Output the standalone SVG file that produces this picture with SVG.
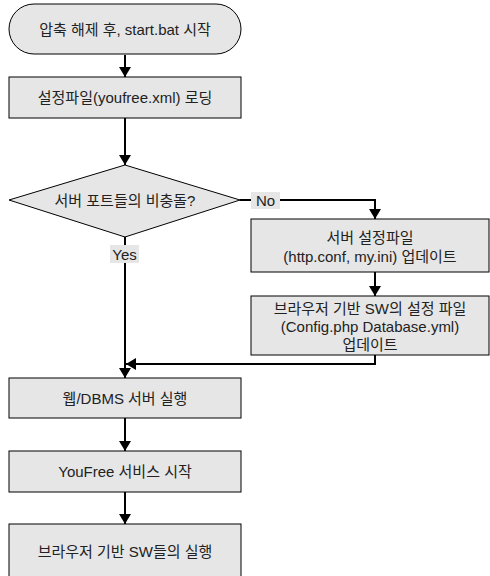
<svg xmlns="http://www.w3.org/2000/svg" width="490" height="576" viewBox="0 0 490 576">
<defs>
<marker id="ah" markerWidth="10" markerHeight="12" refX="10" refY="6" orient="auto" markerUnits="userSpaceOnUse">
<path d="M0,0 L10,6 L0,12 Z" fill="#000"/>
</marker>
<style>
.n{fill:#e6e6e6;stroke:#000;stroke-width:1}
.t{font-family:"Liberation Sans","Noto Sans CJK KR",sans-serif;font-size:15px;fill:#222;text-anchor:middle;dominant-baseline:central}
.c{fill:none;stroke:#000;stroke-width:2}
.lb{fill:#e6e6e6}
</style>
</defs>
<rect width="490" height="576" fill="#fff"/>
<g id="connectors">
<path class="c" d="M125,55 V77" marker-end="url(#ah)"/>
<path class="c" d="M125,118 V165" marker-end="url(#ah)"/>
<path class="c" d="M240,200 H375 V219" marker-end="url(#ah)"/>
<path class="c" d="M375,272 V296" marker-end="url(#ah)"/>
<path class="c" d="M125,237 V378" marker-end="url(#ah)"/>
<path class="c" d="M375,355 V364 H126" marker-end="url(#ah)"/>
<path class="c" d="M125,418 V451" marker-end="url(#ah)"/>
<path class="c" d="M125,492 V524" marker-end="url(#ah)"/>
<rect class="lb" x="251" y="192" width="29" height="17"/>
<text class="t" x="265.5" y="200.5">No</text>
<rect class="lb" x="110" y="245" width="29" height="18"/>
<text class="t" x="124.5" y="254">Yes</text>
</g>
<g id="start">
<rect class="n" x="9" y="4" width="232" height="50" rx="25" ry="25"/>
<text class="t" x="125" y="29">압축 해제 후, start.bat 시작</text>
</g>
<g id="load">
<rect class="n" x="9" y="77" width="232" height="41"/>
<text class="t" x="125" y="97.5">설정파일(youfree.xml) 로딩</text>
</g>
<g id="decision">
<polygon class="n" points="125,165 240,200 125,237 9,200"/>
<text class="t" x="125" y="200">서버 포트들의 비충돌?</text>
</g>
<g id="update1">
<rect class="n" x="251" y="219" width="238" height="53"/>
<text class="t" x="370" y="237">서버 설정파일</text>
<text class="t" x="370" y="256">(http.conf, my.ini) 업데이트</text>
</g>
<g id="update2">
<rect class="n" x="251" y="296" width="238" height="59"/>
<text class="t" x="370" y="308">브라우저 기반 SW의 설정 파일</text>
<text class="t" x="370" y="326">(Config.php Database.yml)</text>
<text class="t" x="370" y="344">업데이트</text>
</g>
<g id="server">
<rect class="n" x="9" y="378" width="232" height="40"/>
<text class="t" x="125" y="398">웹/DBMS 서버 실행</text>
</g>
<g id="service">
<rect class="n" x="9" y="451" width="232" height="41"/>
<text class="t" x="125" y="471">YouFree 서비스  시작</text>
</g>
<g id="browser">
<rect class="n" x="9" y="524" width="232" height="58"/>
<text class="t" x="125" y="551">브라우저 기반 SW들의 실행</text>
</g>
</svg>
